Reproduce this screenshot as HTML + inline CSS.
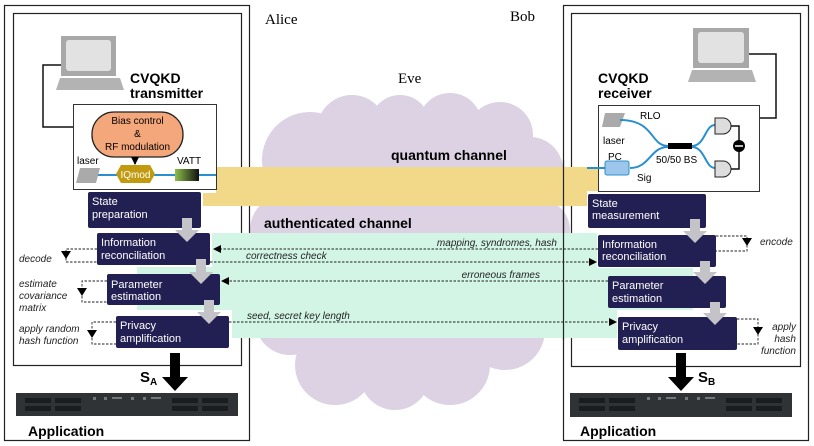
<!DOCTYPE html>
<html><head><meta charset="utf-8"><style>
html,body{margin:0;padding:0;background:#fff;}
svg{display:block;}
text{font-family:"Liberation Sans",sans-serif;}
.bx{fill:#221f52;}
.bt{fill:#fff;font-size:11px;}
.it{font-style:italic;font-size:10px;fill:#222;}
.d{stroke:#222;stroke-width:0.9;stroke-dasharray:2.5,1.5;fill:none;}
</style></head><body>
<svg width="814" height="446" viewBox="0 0 814 446" xmlns="http://www.w3.org/2000/svg">
<defs>
<marker id="ah" markerWidth="8" markerHeight="8" refX="7" refY="4" orient="auto" markerUnits="userSpaceOnUse"><path d="M0,0 L8,4 L0,8 Z" fill="#000"/></marker>
<linearGradient id="vg" x1="0" x2="1"><stop offset="0" stop-color="#8fbf4a"/><stop offset="1" stop-color="#111"/></linearGradient>
</defs>
<!-- cloud -->
<g fill="#dcd2e3">
<ellipse cx="410" cy="255" rx="140" ry="135"/>
<circle cx="310" cy="160" r="48"/><circle cx="352" cy="130" r="35"/><circle cx="400" cy="125" r="30"/>
<circle cx="450" cy="125" r="32"/><circle cx="500" cy="135" r="33"/><circle cx="530" cy="170" r="33"/>
<circle cx="285" cy="230" r="35"/><circle cx="540" cy="230" r="30"/>
<circle cx="290" cy="320" r="35"/><circle cx="335" cy="365" r="40"/><circle cx="395" cy="375" r="35"/>
<circle cx="450" cy="365" r="40"/><circle cx="505" cy="330" r="40"/>
</g>
<!-- outer boxes -->
<rect x="4.5" y="5.5" width="245" height="435" fill="none" stroke="#222" stroke-width="1.2"/>
<rect x="13.5" y="13.5" width="228" height="352" fill="none" stroke="#222" stroke-width="1.2"/>
<rect x="563.5" y="5.5" width="245" height="435" fill="none" stroke="#222" stroke-width="1.2"/>
<rect x="571.5" y="13.5" width="229" height="353" fill="none" stroke="#222" stroke-width="1.2"/>
<!-- mint band -->
<path d="M212,233 H597 V268 H693 V310 H617 V338 H232 V310 H137 V267 H212 Z" fill="#d3f5e6"/>
<!-- yellow band -->
<path d="M216,167 H598 V191 H587 V206 H203 V193 H216 Z" fill="#f2d98a"/>
<line x1="563.5" y1="160" x2="563.5" y2="340" stroke="#222" stroke-width="1.2"/>
<text x="265" y="24" style="font-family:'Liberation Serif',serif;font-size:15px">Alice</text>
<text x="510" y="21" style="font-family:'Liberation Serif',serif;font-size:15px">Bob</text>
<text x="398" y="83" style="font-family:'Liberation Serif',serif;font-size:15px">Eve</text>
<text x="391" y="160" font-weight="bold" font-size="14">quantum channel</text>
<text x="264" y="228" font-weight="bold" font-size="14">authenticated channel</text>
<!-- Alice computer -->
<polyline points="73,65 43,65 43,127 73,127" fill="none" stroke="#111" stroke-width="1.5"/>
<rect x="61" y="36" width="55" height="40" fill="#a8a8a8"/><rect x="66" y="40" width="45" height="31" rx="3" fill="#e2e2e2"/>
<path d="M60,78 H120 L124,90 H56 Z" fill="#b3b3b3"/>
<text x="130" y="83" font-weight="bold" font-size="14">CVQKD</text>
<text x="130" y="98" font-weight="bold" font-size="14">transmitter</text>
<rect x="73.5" y="104.5" width="143" height="85" fill="#fff" stroke="#333"/>
<rect x="92" y="112" width="91" height="45" rx="22" fill="#f4a77a" stroke="#222" stroke-width="1.3"/>
<text x="137.5" y="124" text-anchor="middle" font-size="10">Bias control</text>
<text x="137.5" y="137" text-anchor="middle" font-size="10">&amp;</text>
<text x="137.5" y="150" text-anchor="middle" font-size="10">RF modulation</text>
<line x1="135" y1="157" x2="135" y2="164" stroke="#000" stroke-width="1.5" marker-end="url(#ah)"/>
<line x1="95" y1="175" x2="216" y2="175" stroke="#2a8fd0" stroke-width="2"/>
<text x="77" y="164" font-size="10">laser</text>
<path d="M80,168 H100 L96,183 H76 Z" fill="#aaa"/>
<path d="M121,165 H150 L155,174 L150,183 H121 L116,174 Z" fill="#c19a10"/>
<text x="135.5" y="178" text-anchor="middle" font-size="10" fill="#fff">IQmod</text>
<text x="177" y="164" font-size="10">VATT</text>
<rect x="175" y="169" width="24" height="12" fill="url(#vg)"/>
<!-- Bob computer -->
<polyline points="740,54 776,54 776,118 759,118" fill="none" stroke="#111" stroke-width="1.5"/>
<rect x="693" y="28" width="56" height="40" fill="#a8a8a8"/><rect x="698" y="32" width="46" height="31" rx="3" fill="#e2e2e2"/>
<path d="M692,70 H752 L756,82 H688 Z" fill="#b3b3b3"/>
<text x="598" y="83" font-weight="bold" font-size="14">CVQKD</text>
<text x="598" y="98" font-weight="bold" font-size="14">receiver</text>
<rect x="598.5" y="105.5" width="161" height="86" fill="#fff" stroke="#333"/>
<path d="M605,113 H625 L620,127 H602 Z" fill="#aaa"/>
<text x="603" y="144" font-size="10">laser</text>
<text x="640" y="119" font-size="10">RLO</text>
<text x="608" y="160" font-size="10">PC</text>
<text x="637" y="181" font-size="10">Sig</text>
<text x="656" y="163" font-size="10">50/50 BS</text>
<g fill="none" stroke="#2a8fd0" stroke-width="2">
<path d="M620,120 C655,120 650,146 668,146"/><path d="M630,168 C650,168 650,147 668,147"/>
<path d="M692,146 C705,146 705,125 715,125"/><path d="M692,147 C705,147 705,168 715,168"/>
<line x1="587" y1="168" x2="605" y2="168"/>
</g>
<rect x="605" y="161" width="24" height="14" rx="2" fill="#9cc7ea" stroke="#2a8fd0"/>
<rect x="668" y="143" width="24" height="6" fill="#000"/>
<g fill="#ddd" stroke="#222"><path d="M715,118 h8 a8,8 0 0 1 0,16 h-8 Z"/><path d="M715,161 h8 a8,8 0 0 1 0,16 h-8 Z"/></g>
<polyline points="731,126 739,126 739,169 731,169" fill="none" stroke="#111" stroke-width="1.5"/>
<circle cx="739" cy="146" r="6" fill="#000"/><line x1="735" y1="146" x2="743" y2="146" stroke="#fff" stroke-width="1.5"/>
<!-- boxes -->
<g class="bx">
<rect x="88" y="192" width="113" height="36" rx="2"/><rect x="97" y="233" width="113" height="32" rx="2"/>
<rect x="107" y="274" width="113" height="31" rx="2"/><rect x="116" y="316" width="113" height="32" rx="2"/>
<rect x="588" y="194" width="118" height="34" rx="2"/><rect x="598" y="235" width="118" height="32" rx="2"/>
<rect x="608" y="276" width="118" height="32" rx="2"/><rect x="618" y="317" width="119" height="33" rx="2"/>
</g>
<!-- gray flow arrows (on top) -->
<g fill="#c4c4c8">
<path d="M182,218 h10 v12 h7 l-12,12 l-12,-12 h7 Z"/><path d="M196,259 h10 v13 h7 l-12,12 l-12,-12 h7 Z"/><path d="M204,300 h10 v12 h7 l-12,12 l-12,-12 h7 Z"/>
<path d="M690,219 h10 v12 h7 l-12,12 l-12,-12 h7 Z"/><path d="M700,261 h10 v11 h7 l-12,12 l-12,-12 h7 Z"/><path d="M710,302 h10 v11 h7 l-12,12 l-12,-12 h7 Z"/>
</g>
<g class="bt">
<text x="92" y="205">State</text><text x="92" y="218">preparation</text>
<text x="101" y="246">Information</text><text x="101" y="259">reconciliation</text>
<text x="111" y="288">Parameter</text><text x="111" y="300">estimation</text>
<text x="120" y="329">Privacy</text><text x="120" y="342">amplification</text>
<text x="592" y="207">State</text><text x="592" y="219">measurement</text>
<text x="602" y="248">Information</text><text x="602" y="260">reconciliation</text>
<text x="612" y="289">Parameter</text><text x="612" y="302">estimation</text>
<text x="622" y="330">Privacy</text><text x="622" y="343">amplification</text>
</g>
<!-- dashed channel lines -->
<line class="d" x1="598" y1="249" x2="214" y2="249" marker-end="url(#ah)"/>
<line class="d" x1="210" y1="262" x2="596" y2="262" marker-end="url(#ah)"/>
<line class="d" x1="608" y1="281" x2="222" y2="281" marker-end="url(#ah)"/>
<line class="d" x1="229" y1="322" x2="616" y2="322" marker-end="url(#ah)"/>
<text class="it" x="557" y="246" text-anchor="end">mapping, syndromes, hash</text>
<text class="it" x="246" y="259">correctness check</text>
<text class="it" x="540" y="278" text-anchor="end">erroneous frames</text>
<text class="it" x="247" y="319">seed, secret key length</text>
<!-- local loops -->
<polyline class="d" points="97,249 66,249 66,262 97,262"/><path d="M61,251 h10 l-5,8 Z"/>
<polyline class="d" points="107,281 82,281 82,302 107,302"/><path d="M77,288 h10 l-5,8 Z"/>
<polyline class="d" points="116,322 92,322 92,344 116,344"/><path d="M87,330 h10 l-5,8 Z"/>
<polyline class="d" points="716,236 747,236 747,251 716,251"/><path d="M742,238 h10 l-5,8 Z"/>
<polyline class="d" points="737,319 758,319 758,344 737,344"/><path d="M753,327 h10 l-5,8 Z"/>
<text class="it" x="19" y="262">decode</text>
<text class="it" x="19" y="287">estimate</text><text class="it" x="19" y="299">covariance</text><text class="it" x="19" y="311">matrix</text>
<text class="it" x="19" y="332">apply random</text><text class="it" x="19" y="344">hash function</text>
<text class="it" x="760" y="245">encode</text>
<text class="it" x="796" y="330" text-anchor="end">apply</text><text class="it" x="796" y="342" text-anchor="end">hash</text><text class="it" x="796" y="354" text-anchor="end">function</text>
<!-- output arrows -->
<path d="M170,353 h10 v24 h8 l-13,14 l-13,-14 h8 Z" fill="#000"/>
<path d="M676,353 h10 v24 h8 l-13,14 l-13,-14 h8 Z" fill="#000"/>
<text x="140" y="382" font-weight="bold" font-size="15">S<tspan font-size="10" dy="3">A</tspan></text>
<text x="698" y="382" font-weight="bold" font-size="15">S<tspan font-size="10" dy="3">B</tspan></text>
<!-- servers -->
<g>
<rect x="16" y="393" width="222" height="23" fill="#2f3336"/>
<g fill="#1a1d20"><rect x="25" y="398" width="26" height="5"/><rect x="25" y="406" width="26" height="5"/><rect x="55" y="398" width="26" height="5"/><rect x="55" y="406" width="26" height="5"/>
<rect x="172" y="398" width="26" height="5"/><rect x="172" y="406" width="26" height="5"/><rect x="202" y="398" width="26" height="5"/><rect x="202" y="406" width="26" height="5"/></g>
<g fill="#777"><rect x="93" y="397" width="3" height="3"/><rect x="104" y="397" width="3" height="3"/><rect x="131" y="397" width="3" height="3"/><rect x="143" y="397" width="3" height="3"/><rect x="112" y="397" width="10" height="2"/><rect x="151" y="397" width="10" height="2"/></g>
<rect x="570" y="393" width="222" height="24" fill="#2f3336"/>
<g fill="#1a1d20"><rect x="579" y="398" width="26" height="5"/><rect x="579" y="406" width="26" height="5"/><rect x="609" y="398" width="26" height="5"/><rect x="609" y="406" width="26" height="5"/>
<rect x="726" y="398" width="26" height="5"/><rect x="726" y="406" width="26" height="5"/><rect x="756" y="398" width="26" height="5"/><rect x="756" y="406" width="26" height="5"/></g>
<g fill="#777"><rect x="647" y="397" width="3" height="3"/><rect x="658" y="397" width="3" height="3"/><rect x="685" y="397" width="3" height="3"/><rect x="697" y="397" width="3" height="3"/><rect x="666" y="397" width="10" height="2"/><rect x="705" y="397" width="10" height="2"/></g>
</g>
<text x="28" y="436" font-weight="bold" font-size="14">Application</text>
<text x="580" y="436" font-weight="bold" font-size="14">Application</text>
</svg>
</body></html>
